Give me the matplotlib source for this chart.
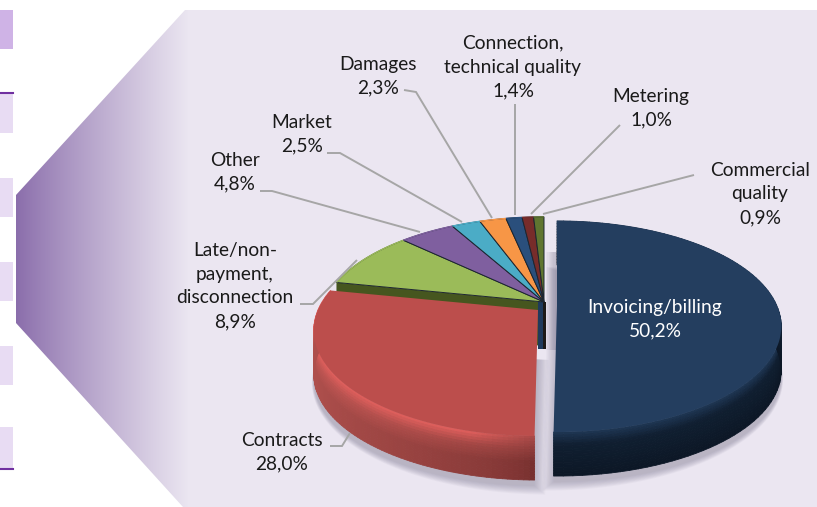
import numpy as np
import matplotlib
matplotlib.use('Agg')
import matplotlib.pyplot as plt
from matplotlib.collections import PolyCollection
from matplotlib.colors import to_rgb
from matplotlib.patches import Polygon

plt.rcParams['font.family'] = ['Lato', 'DejaVu Sans']

# data
categories = ['Invoicing/billing', 'Contracts', 'Late/non-\npayment,\ndisconnection', 'Other', 'Market',
              'Damages', 'Connection,\ntechnical quality', 'Metering', 'Commercial\nquality']
values = [50.2, 28.0, 8.9, 4.8, 2.5, 2.3, 1.4, 1.0, 0.9]
colors = ['#243e5f', '#bc4e4c', '#9bbb59', '#7f5f9f', '#4bacc6', '#f79646', '#2a4f7c', '#772c2a', '#5f7530']

# label anchor (centre of text block) and leader line for each slice
label_pos = [(655, 319), (282, 452), (235, 286), (235, 172), (302, 134), (378, 76), (513, 67), (651, 108), (760, 194)]
leaders = [None,
           [(330, 446), (342, 446), (350, 433)],
           [(300, 304), (313, 304), (357, 260)],
           [(260, 191), (272, 191), (420, 232)],
           [(327, 153), (340, 153), (462, 222)],
           [(404, 90), (416, 92), (492, 218)],
           [(515, 104), (515, 215)],
           [(620, 125), (531, 214)],
           [(694, 175), (543, 214)]]

RX, RY, K, DEPTH = 220, 101.6, 0.194, 44
MAIN = (544, 302)
BLUE = (557, 306)
RED = (538, 310)


def proj(theta, r, c):
    # clockwise from 12 o'clock, with a bit of perspective toward the viewer
    u, v = r * np.sin(theta), -r * np.cos(theta)
    w = 1 / (1 - K * v)
    return c[0] + RX * u * w, c[1] + RY * v * w


def arc(t0, t1, c, r=1.0, n=120):
    t = np.linspace(t0, t1, n)
    x, y = proj(t, r, c)
    return np.column_stack([x, y])


def wedge(t0, t1, c, r=1.0):
    return np.vstack([[c], arc(t0, t1, c, r)])


def mix(a, b, f):
    return tuple((1 - f) * np.array(to_rgb(a)) + f * np.array(to_rgb(b)))


def side(ax, t0, t1, c, col_fn, n=90, bands=16):
    # rim of the slice, painted in thin bands so it can be shaded
    t = np.linspace(t0, t1, n)
    polys, cols = [], []
    for b in range(bands):
        d0, d1 = DEPTH * b / bands, DEPTH * (b + 1) / bands
        for i in range(n - 1):
            x0, y0 = proj(t[i], 1, c)
            x1, y1 = proj(t[i + 1], 1, c)
            polys.append([(x0, y0 + d0), (x1, y1 + d0), (x1, y1 + d1), (x0, y0 + d1)])
            cols.append(col_fn(t[i], (b + 0.5) / bands))
    ax.add_collection(PolyCollection(polys, facecolors=cols, edgecolors=cols, linewidths=0.6, zorder=3))


def red_side(t, f):
    g = np.clip((t - np.pi) / 1.2, 0, 1)
    g2 = np.sqrt(g)
    hi = mix('#a94a48', '#e2605d', min(g * 5, 1))
    mid = mix('#8a3a38', '#c05653', g2)
    low = mix('#722d2c', '#ae4f4c', g2)
    if f < 0.3:
        return mix(hi, mid, f / 0.3)
    return mix(mid, low, min((f - 0.3) / 0.3, 1))


def blue_side(t, f):
    if f < 0.3:
        return mix('#1e3654', '#101f31', f / 0.3)
    return mix('#101f31', '#0c1725', (f - 0.3) / 0.7)


fig = plt.figure(figsize=(8.17, 5.07), dpi=100)
ax = fig.add_axes([0, 0, 1, 1])
ax.set_xlim(0, 817)
ax.set_ylim(507, 0)
ax.axis('off')

# boxes on the left edge
box_rows = [(10, 49, '#cfb3e6'), (93, 133, '#e8dcf3'), (178, 217, '#e8dcf3'),
            (262, 301, '#e8dcf3'), (346, 385, '#e8dcf3'), (427, 468, '#e8dcf3')]
for y0, y1, c in box_rows:
    ax.fill([0, 13, 13, 0], [y0, y0, y1, y1], color=c, lw=0, zorder=1)
ax.plot([0, 13], [93, 93], color='#7030a0', lw=1.5, zorder=1)
ax.plot([0, 13], [469, 469], color='#7030a0', lw=1.5, zorder=1)

# funnel + panel background
panel = Polygon([(16, 195), (185, 10), (817, 10), (817, 507), (183, 507), (16, 323)], closed=True,
                facecolor='none', edgecolor='none')
ax.add_patch(panel)
x_px = np.arange(817)
rgb = np.array([mix('#8a6dab', '#ebe6f1', np.clip((x - 16) / 172, 0, 1) ** 0.9) for x in x_px])
im = ax.imshow(rgb[np.newaxis, :, :], extent=(0, 817, 507, 0), aspect='auto', zorder=1.5)
im.set_clip_path(panel)
ax.set_xlim(0, 817)
ax.set_ylim(507, 0)

# angles from the values
edges = np.cumsum([0] + values) / sum(values) * 2 * np.pi

# soft shadows
for i in range(10):
    s = 1.0 + 0.006 * i
    for (t0, t1, c) in [(edges[0], edges[1], BLUE), (edges[1], edges[2], RED)]:
        p = wedge(t0, t1, c, s)
        p[:, 1] += DEPTH + 6
        p[:, 0] += -i * 1.2 if t0 == 0 else i * 1.2
        ax.add_patch(Polygon(p, closed=True, facecolor='#77738c', edgecolor='none', alpha=0.05, zorder=2))
    ax.fill([BLUE[0] - 1.2 * i, BLUE[0], BLUE[0], BLUE[0] - 1.2 * i], [252, 252, 350, 350],
            color='#77738c', alpha=0.05, lw=0, zorder=2)

# small slices, with the cut face of the green one and the stack under the centre
x0, y0 = MAIN
ex, ey = proj(edges[2], 1, MAIN)
ax.fill([x0, ex, ex, x0], [y0, ey, ey + DEPTH, y0 + DEPTH], color='#46561f', lw=0, zorder=3.2)
ax.fill([x0 - 6, x0 + 2, x0 + 2, x0 - 6], [y0, y0, y0 + DEPTH + 3, y0 + DEPTH + 3], color='#1f3a5c', lw=0, zorder=3.3)
ax.fill([x0 - 0.5, x0 + 2, x0 + 2, x0 - 0.5], [y0, y0, y0 + DEPTH + 3, y0 + DEPTH + 3], color='#1d1a18', lw=0, zorder=3.3)
for i in range(2, len(values)):
    ax.add_patch(Polygon(wedge(edges[i], edges[i + 1], MAIN), closed=True, facecolor=colors[i],
                         edgecolor='#1c2530', lw=0.7, zorder=3.5))
    ax.add_patch(Polygon(arc(edges[i], edges[i + 1], MAIN), closed=False, fill=False, edgecolor=colors[i], lw=1.0, zorder=3.6))

# red slice
side(ax, edges[1], edges[2], RED, red_side)
ax.add_patch(Polygon(wedge(edges[1], edges[2], RED), closed=True, facecolor=colors[1], edgecolor='none', zorder=4))

# blue slice
side(ax, edges[0], edges[1], BLUE, blue_side)
ax.add_patch(Polygon(wedge(edges[0], edges[1], BLUE), closed=True, facecolor=colors[0], edgecolor='none', zorder=4))

# leader lines
for pts in leaders:
    if pts is None:
        continue
    xs, ys = zip(*pts)
    ax.plot(xs, ys, color='#a6a6a6', lw=1.4, zorder=5, solid_capstyle='butt', solid_joinstyle='miter')

# labels
for i, (name, val) in enumerate(zip(categories, values)):
    txt = '%s\n%s%%' % (name, ('%.1f' % val).replace('.', ','))
    ax.text(label_pos[i][0], label_pos[i][1], txt, ha='center', va='center', fontsize=13.8, linespacing=1.48,
            color='white' if i == 0 else '#1a1a1a', zorder=6)

fig.savefig('out.png', dpi=100)
